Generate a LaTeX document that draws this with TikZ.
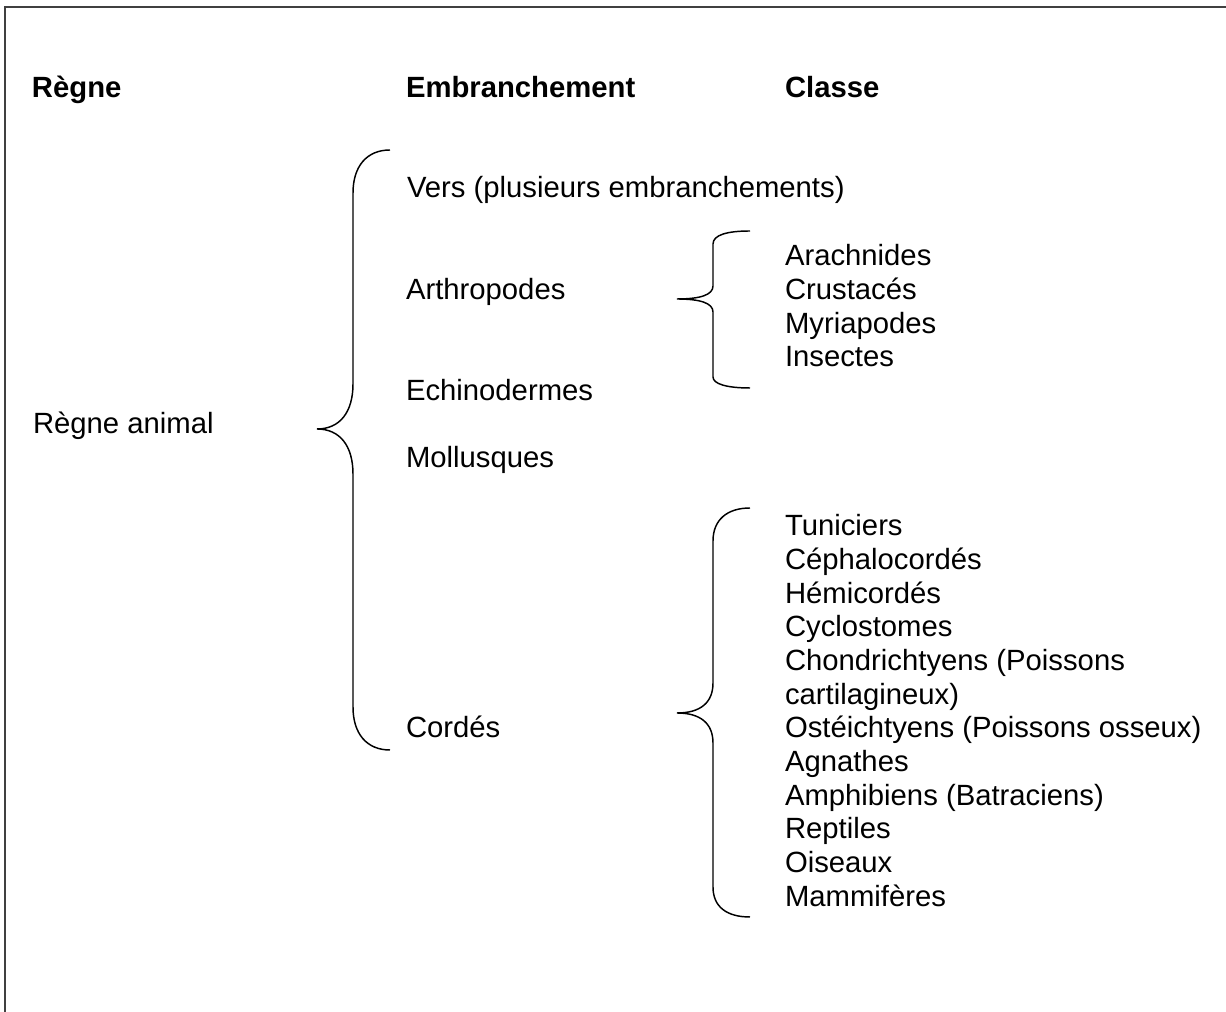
\documentclass[tikz,border=0pt]{standalone}
\usepackage{fontspec}
\setmainfont{Liberation Sans}
\usepackage{tikz}
\usetikzlibrary{positioning}

\begin{document}
\begin{tikzpicture}[
      x=0.41pt, y=-0.41pt,
      item/.style={font=\fontsize{12}{13.8}\selectfont, inner sep=0pt, outer sep=0pt, anchor=base west},
      head/.style={item, font=\fontsize{12}{13.8}\selectfont\bfseries},
      listitem/.style={item, text height=9.8pt, text depth=4pt},
      brace/.style={draw=black, line width=0.6pt},
      frame/.style={draw=black!75, line width=0.8pt},
    ]
    \useasboundingbox (0,0) rectangle (1226,1012);
    \draw[frame] (5,1012) -- (5,7) -- (1226,7);

    % column heads
    \node[head] (hregne) at (32,98) {Règne};
    \node[head] (hembr) at (406,98) {Embranchement};
    \node[head] (hclasse) at (785,98) {Classe};

    \node[item] (regne) at (33,434) {Règne animal};

    % embranchements
    \node[item] (vers) at (407,198) {Vers (plusieurs embranchements)};
    \node[item] (arthro) at (406,300) {Arthropodes};
    \node[item] (echino) at (406,401) {Echinodermes};
    \node[item] (mollus) at (406,468) {Mollusques};
    \node[item] (cordes) at (406,738) {Cordés};

    % classes des arthropodes
    \node[listitem] (arach) at (785,266) {Arachnides};
    \node[listitem, below=0pt of arach.south west, anchor=north west] (crust) {Crustacés};
    \node[listitem, below=0pt of crust.south west, anchor=north west] (myria) {Myriapodes};
    \node[listitem, below=0pt of myria.south west, anchor=north west] (insect) {Insectes};

    % classes des cordés
    \node[listitem] (tunic) at (785,536) {Tuniciers};
    \node[listitem, below=0pt of tunic.south west, anchor=north west] (cephal) {Céphalocordés};
    \node[listitem, below=0pt of cephal.south west, anchor=north west] (hemic) {Hémicordés};
    \node[listitem, below=0pt of hemic.south west, anchor=north west] (cyclo) {Cyclostomes};
    \node[listitem, below=0pt of cyclo.south west, anchor=north west] (chondr) {Chondrichtyens (Poissons};
    \node[listitem, below=0pt of chondr.south west, anchor=north west] (cartil) {cartilagineux)};
    \node[listitem, below=0pt of cartil.south west, anchor=north west] (osteic) {Ostéichtyens (Poissons osseux)};
    \node[listitem, below=0pt of osteic.south west, anchor=north west] (agnath) {Agnathes};
    \node[listitem, below=0pt of agnath.south west, anchor=north west] (amphib) {Amphibiens (Batraciens)};
    \node[listitem, below=0pt of amphib.south west, anchor=north west] (reptil) {Reptiles};
    \node[listitem, below=0pt of reptil.south west, anchor=north west] (oiseau) {Oiseaux};
    \node[listitem, below=0pt of oiseau.south west, anchor=north west] (mammif) {Mammifères};

    % accolades
    \draw[brace] (390,150) .. controls (367,150) and (353,166) .. (353,193)
      -- (353,384) .. controls (353,412) and (340,429) .. (317,429)
      .. controls (340,429) and (353,446) .. (353,474)
      -- (353,707) .. controls (353,734) and (367,750) .. (390,750);
    \draw[brace] (750,231) .. controls (727,231) and (713,235) .. (713,244)
      -- (713,286) .. controls (713,295) and (700,299) .. (677,299)
      .. controls (700,299) and (713,303) .. (713,312)
      -- (713,377) .. controls (713,384) and (727,388) .. (750,388);
    \draw[brace] (750,508) .. controls (727,508) and (713,520) .. (713,541)
      -- (713,683) .. controls (713,703) and (700,713) .. (677,713)
      .. controls (700,713) and (713,723) .. (713,743)
      -- (713,887) .. controls (713,907) and (727,917) .. (750,917);
  \end{tikzpicture}
\end{document}
